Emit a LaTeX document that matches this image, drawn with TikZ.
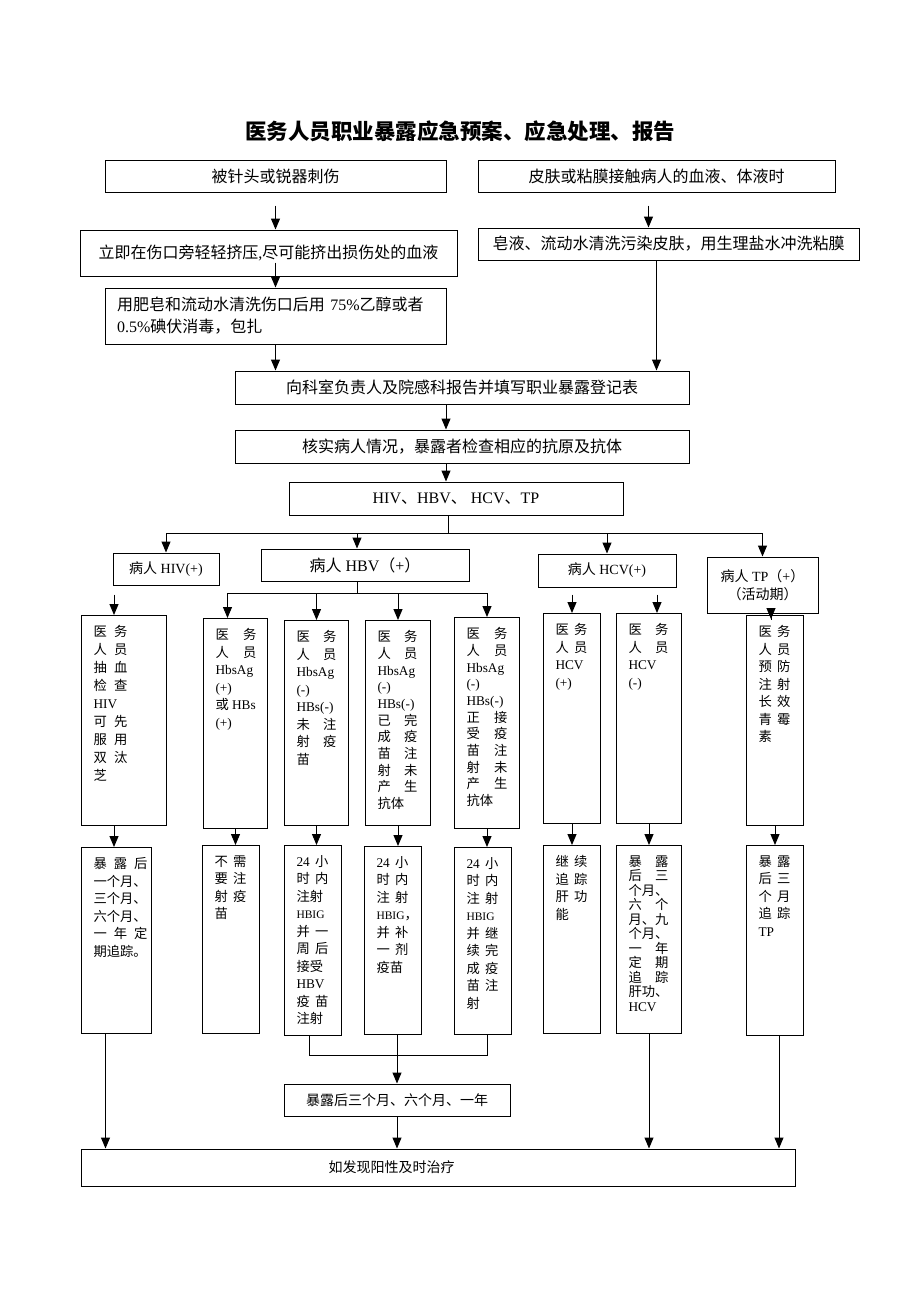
\documentclass[tikz,border=0pt]{standalone}
\usepackage{fontspec}
\setmainfont{Liberation Serif}
\newfontfamily\cjk{Noto Sans CJK SC}
\usetikzlibrary{arrows.meta}

% switch to the CJK font for Chinese characters
\XeTeXinterchartokenstate=1
\newXeTeXintercharclass\cjkclass
\newcommand\setcls[3]{\count255=#1 \loop\ifnum\count255<#2 \XeTeXcharclass\count255=#3 \advance\count255 by 1 \repeat}
\setcls{"0021}{"007F}{0}
\setcls{"3000}{"3040}{\cjkclass}
\setcls{"4E00}{"A000}{\cjkclass}
\setcls{"FF00}{"FFF0}{\cjkclass}
\XeTeXinterchartoks 0 \cjkclass = {\cjk}
\XeTeXinterchartoks 4095 \cjkclass = {\cjk}
\XeTeXinterchartoks \cjkclass 0 = {\rmfamily}
\XeTeXinterchartoks \cjkclass 4095 = {\rmfamily}

% narrow box text: box width, text width, box height, text
\newcommand\narrow[4]{\hspace*{12pt}\parbox[t][\dimexpr#3pt-20pt\relax][t]{#2pt}{\fontsize{13.3}{17.5}\selectfont#4}\hspace*{\dimexpr#1pt-12pt-#2pt\relax}}
\newcommand\hbig{{\fontsize{11.5}{17.5}\selectfont HBIG}}

\begin{document}
\begin{tikzpicture}[x=1pt,y=-1pt,line width=1pt,>={Triangle[width=9pt,length=11pt]},
  box/.style={draw,inner sep=0pt,font=\fontsize{16}{22}\selectfont},
  cell/.style={draw,anchor=north west,inner xsep=0pt,inner ysep=10pt}]
\useasboundingbox (0,0) rectangle (920,1302);

\node[font=\fontsize{21.5}{24}\selectfont\bfseries] (title) at (460,131) {医务人员职业暴露应急预案、应急处理、报告};

\node[box,minimum width=341,minimum height=32] (needle) at (275.5,176) {被针头或锐器刺伤};
\node[box,minimum width=357,minimum height=32] (skin) at (656.5,176) {皮肤或粘膜接触病人的血液、体液时};
\node[box,minimum width=377,minimum height=46] (squeeze) at (268.5,253) {立即在伤口旁轻轻挤压,尽可能挤出损伤处的血液};
\node[box,minimum width=381,minimum height=32] (wash) at (668.5,244) {皂液、流动水清洗污染皮肤，用生理盐水冲洗粘膜};
\node[box,minimum width=341,minimum height=56,text width=317,align=left] (rinse) at (275.5,316) {用肥皂和流动水清洗伤口后用 75\%乙醇或者\\0.5\%碘伏消毒，包扎};
\node[box,minimum width=454,minimum height=33] (report) at (462,387.5) {向科室负责人及院感科报告并填写职业暴露登记表};
\node[box,minimum width=454,minimum height=33] (check) at (462,446.5) {核实病人情况，暴露者检查相应的抗原及抗体};
\node[box,minimum width=334,minimum height=33] (tests) at (456,498.5) {HIV、HBV、 HCV、TP};

\node[box,font=\fontsize{14}{18}\selectfont,minimum width=106,minimum height=32] (hiv) at (166,569) {病人 HIV(+)};
\node[box,minimum width=208,minimum height=32] (hbv) at (365,565) {病人 HBV（+）};
\node[box,font=\fontsize{14}{18}\selectfont,minimum width=138,minimum height=33] (hcv) at (607,570.5) {病人 HCV(+)};
\node[box,font=\fontsize{14}{18}\selectfont,minimum width=111,minimum height=56,align=center] (tp) at (762.5,585) {病人 TP（+）\\（活动期）};

\node[cell] (hivd) at (81,615) {\narrow{85}{34}{210}{\fontsize{13.3}{18}\selectfont 医\hfill 务\\人\hfill 员\\抽\hfill 血\\检\hfill 查\\HIV\\可\hfill 先\\服\hfill 用\\双\hfill 汰\\芝}};
\node[cell] (hbvd1) at (203,618) {\narrow{64}{41}{210}{医\hfill 务\\人\hfill 员\\HbsAg\\(+)\\或 HBs\\(+)}};
\node[cell] (hbvd2) at (284,620) {\narrow{64}{40}{205}{医\hfill 务\\人\hfill 员\\HbsAg\\(-)\\HBs(-)\\未\hfill 注\\射\hfill 疫\\苗}};
\node[cell] (hbvd3) at (365,620) {\narrow{65}{40}{205}{\fontsize{13.3}{16.7}\selectfont 医\hfill 务\\人\hfill 员\\HbsAg\\(-)\\HBs(-)\\已\hfill 完\\成\hfill 疫\\苗\hfill 注\\射\hfill 未\\产\hfill 生\\抗体}};
\node[cell] (hbvd4) at (454,617) {\narrow{65}{41}{211}{\fontsize{13.3}{16.7}\selectfont 医\hfill 务\\人\hfill 员\\HbsAg\\(-)\\HBs(-)\\正\hfill 接\\受\hfill 疫\\苗\hfill 注\\射\hfill 未\\产\hfill 生\\抗体}};
\node[cell] (hcvd1) at (543,613) {\narrow{57}{32}{210}{医\hfill 务\\人\hfill 员\\HCV\\(+)}};
\node[cell] (hcvd2) at (616,613) {\narrow{65}{40}{210}{医\hfill 务\\人\hfill 员\\HCV\\(-)}};
\node[cell] (tpd) at (746,615) {\narrow{57}{32}{210}{医\hfill 务\\人\hfill 员\\预\hfill 防\\注\hfill 射\\长\hfill 效\\青\hfill 霉\\素}};

\node[cell] (hivf) at (81,847) {\narrow{70}{54}{186}{暴\hfill 露\hfill 后\\一个月、\\三个月、\\六个月、\\一\hfill 年\hfill 定\\期追踪。}};
\node[cell] (hbvf1) at (202,845) {\narrow{57}{32}{188}{不\hfill 需\\要\hfill 注\\射\hfill 疫\\苗}};
\node[cell] (hbvf2) at (284,845) {\narrow{57}{32}{190}{24\hfill 小\\时\hfill 内\\注射\\\hbig\\并\hfill 一\\周\hfill 后\\接受\\HBV\\疫\hfill 苗\\注射}};
\node[cell] (hbvf3) at (364,846) {\narrow{57}{32}{188}{24\hfill 小\\时\hfill 内\\注\hfill 射\\\hbig\rlap{，}\\并\hfill 补\\一\hfill 剂\\疫苗}};
\node[cell] (hbvf4) at (454,847) {\narrow{57}{32}{187}{24\hfill 小\\时\hfill 内\\注\hfill 射\\\hbig\\并\hfill 继\\续\hfill 完\\成\hfill 疫\\苗\hfill 注\\射}};
\node[cell] (hcvf1) at (543,845) {\narrow{57}{32}{188}{继\hfill 续\\追\hfill 踪\\肝\hfill 功\\能}};
\node[cell] (hcvf2) at (616,845) {\narrow{65}{40}{188}{\fontsize{13.3}{14.5}\selectfont 暴\hfill 露\\后\hfill 三\\个\hfill 月、\\六\hfill 个\\月、\hfill 九\\个\hfill 月、\\一\hfill 年\\定\hfill 期\\追\hfill 踪\\肝功、\\HCV}};
\node[cell] (tpf) at (746,845) {\narrow{57}{32}{190}{暴\hfill 露\\后\hfill 三\\个\hfill 月\\追\hfill 踪\\TP}};

\node[box,font=\fontsize{14}{18}\selectfont,minimum width=226,minimum height=32] (follow) at (397,1100) {暴露后三个月、六个月、一年};
\node[box,minimum width=714,minimum height=37] (treat) at (438,1167.5) {};
\node[font=\fontsize{14}{18}\selectfont] (treattext) at (391.5,1167.5) {如发现阳性及时治疗};

\coordinate (split) at (448,533);
\coordinate (hbvsplit) at (357,593);
\coordinate (join) at (397,1055);
\coordinate (hbvtop) at ([xshift=-8]hbv.north);
\coordinate (hbvd1in) at ([xshift=-8]hbvd1.north);
\coordinate (hivdin) at ([xshift=-10]hivd.north);
\coordinate (hcvd2in) at ([xshift=8]hcvd2.north);
\coordinate (tpdin) at ([xshift=-4]tpd.north);
\coordinate (hivout) at ([xshift=-11]hivf.south);
\coordinate (tpout) at ([xshift=4]tpf.south);

\draw[->,shorten <=13pt] (needle.south) -- (needle.south |- squeeze.north);
\draw[->,shorten <=13pt] ([xshift=-8]skin.south) -- ([xshift=-8]skin.south |- wash.north);
\draw[->,shorten <=-14pt] (squeeze.south -| rinse.north) -- (rinse.north);
\draw[->] (rinse.south) -- (rinse.south |- report.north);
\draw[->] ([xshift=-12]wash.south) -- ([xshift=-12]wash.south |- report.north);
\draw[->] ([xshift=-16]report.south) -- ([xshift=-16]check.north);
\draw[->] ([xshift=-16]check.south) -- ([xshift=-16]check.south |- tests.north);

\draw ([xshift=-8]tests.south) -- (split);
\draw (hiv.north |- split) -- (tp.north |- split);
\foreach \n in {hiv,hcv,tp} \draw[->] (\n.north |- split) -- (\n.north);
\draw[->] (hbvtop |- split) -- (hbvtop);

\draw ([xshift=-8]hbv.south) -- (hbvsplit);
\draw (hbvd1in |- hbvsplit) -- (hbvd4.north |- hbvsplit);
\draw[->] (hbvd1in |- hbvsplit) -- (hbvd1in);
\foreach \n in {hbvd2,hbvd3,hbvd4} \draw[->] (\n.north |- hbvsplit) -- (\n.north);
\draw[->,shorten <=9pt] (hivdin |- hiv.south) -- (hivdin);
\draw[->,shorten <=7pt] (hcvd1.north |- hcv.south) -- (hcvd1.north);
\draw[->,shorten <=7pt] (hcvd2in |- hcv.south) -- (hcvd2in);
\draw[->,shorten <=-6pt,shorten >=-4pt] (tpdin |- tp.south) -- (tpdin);

\draw[->] (hivdin |- hivd.south) -- (hivdin |- hivf.north);
\foreach \a/\b in {hbvd1/hbvf1,hbvd2/hbvf2,hbvd3/hbvf3,hbvd4/hbvf4,hcvd1/hcvf1,hcvd2/hcvf2,tpd/tpf}
  \draw[->] (\a.south) -- (\a.south |- \b.north);

\draw[->] (hivout) -- (hivout |- treat.north);
\draw ([xshift=-4]hbvf2.south) |- (join) -| ([xshift=4]hbvf4.south);
\draw[->] (follow.north |- hbvf3.south) -- (follow.north);
\draw[->] (follow.south) -- (follow.south |- treat.north);
\draw[->] (hcvf2.south) -- (hcvf2.south |- treat.north);
\draw[->] (tpout) -- (tpout |- treat.north);
\end{tikzpicture}
\end{document}
